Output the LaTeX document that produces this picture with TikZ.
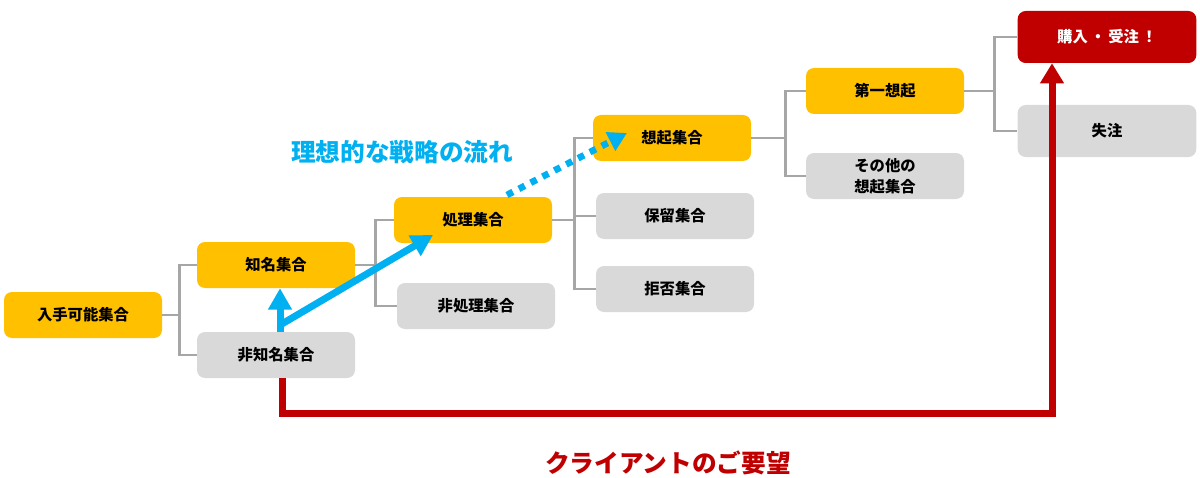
\documentclass[tikz,border=0pt]{standalone}
\usepackage{fontspec}
\setmainfont{Noto Sans CJK JP}
\usetikzlibrary{positioning, calc, arrows.meta}
\definecolor{pickyellow}{HTML}{FFC000}
\definecolor{dropgray}{HTML}{D9D9D9}
\definecolor{treegray}{HTML}{A6A6A6}
\definecolor{wishred}{HTML}{C00000}
\definecolor{flowblue}{HTML}{00B0F0}

\begin{document}
\begin{tikzpicture}[x=0.75pt, y=-0.75pt,
   set/.style={rectangle, rounded corners=6pt, minimum width=118.5pt, minimum height=34.5pt,
               inner sep=0pt, align=center, font=\fontsize{11.5}{16}\selectfont\bfseries},
   pick/.style={set, fill=pickyellow},
   drop/.style={set, fill=dropgray},
   goal/.style={set, minimum width=134pt, minimum height=39pt},
   tree/.style={draw=treegray, line width=2.1pt},
   flow/.style={draw=flowblue, line width=5.25pt, -{Triangle[length=16pt, width=17pt]}},
   hope/.style={draw=flowblue, line width=5pt, dash pattern=on 5pt off 5pt, -{Triangle[length=14pt, width=15pt]}},
   wish/.style={draw=wishred, line width=5.25pt, -{Triangle[length=15pt, width=17pt]}},
   caption/.style={font=\fontsize{18.5}{20}\selectfont\bfseries}]
   \useasboundingbox (0,0) rectangle (1200,478);

   % sets
   \node[pick] (avail)   at (83,315)   {入手可能集合};
   \node[pick] (known)   at (276,265)  {知名集合};
   \node[drop] (unknown) at (276,355)  {非知名集合};
   \node[pick] (proc)    at (473,220)  {処理集合};
   \node[drop] (nonproc) at (476,306)  {非処理集合};
   \node[pick] (evoked)  at (672,138)  {想起集合};
   \node[drop] (hold)    at (675,216)  {保留集合};
   \node[drop] (reject)  at (675,289)  {拒否集合};
   \node[pick] (first)   at (885,91)   {第一想起};
   \node[drop] (other)   at (885,176)  {その他の\\想起集合};
   \node[goal, fill=wishred, text=white] (buy) at (1107,37) {購入\,・\,受注\,！};
   \node[goal, fill=dropgray] (lost) at (1107,131) {失注};

   % tree
   \draw[tree] (avail.east) -- ++(17,0) coordinate (j1) |- (known.west) (j1) |- (unknown.west);
   \draw[tree] (known.east) -- ++(20,0) coordinate (j2) |- (proc.west) (j2) |- (nonproc.west);
   \draw[tree] (proc.east) -- ++(22,0) coordinate (j3) |- (evoked.west) (j3) |- (hold.west) (j3) |- (reject.west);
   \draw[tree] (evoked.east) -- ++(34,0) coordinate (j4) |- (first.west) (j4) |- (other.west);
   \draw[tree] (first.east) -- ++(30,0) coordinate (j5) |- (buy.west) (j5) |- (lost.west);

   % ideal flow
   \coordinate (fork) at ([xshift=3pt]unknown.north);
   \coordinate (procin) at (433,235);
   \coordinate (dotfrom) at (507,195);
   \coordinate (dotto) at (627,133);
   \draw[flow] (fork) -- (fork |- known.south);
   \draw[flow] ([yshift=5pt]fork) -- (procin);
   \draw[hope] (dotfrom) -- (dotto);
   \node[caption, text=flowblue] (ideal) at (402,152) {理想的な戦略の流れ};

   % client wish
   \coordinate (turn) at (1052,413);
   \draw[wish] ([xshift=5pt]unknown.south) |- (turn) -- (turn |- buy.south);
   \node[caption, text=wishred] (wishlabel) at (668,463) {クライアントのご要望};
\end{tikzpicture}
\end{document}
